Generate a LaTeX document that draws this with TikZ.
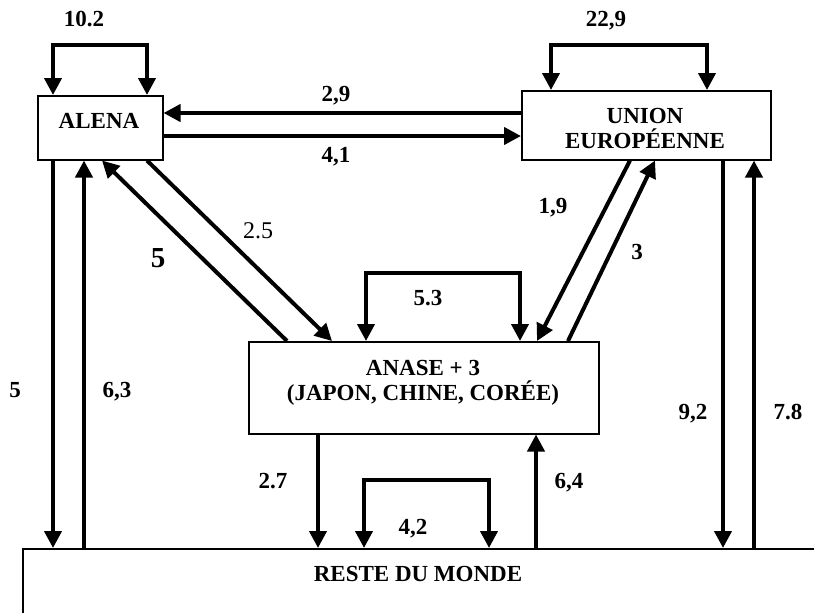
\documentclass[tikz,border=0pt]{standalone}
\usepackage{fontspec}
\setmainfont{Liberation Serif}
\usetikzlibrary{arrows.meta}
\begin{document}
\begin{tikzpicture}[x=1pt,y=-1pt,
  box/.style={draw, line width=1.5pt, inner sep=0pt, anchor=north west},
  txt/.style={font=\fontsize{23}{26}\selectfont\bfseries, inner sep=0pt, anchor=base},
  lab/.style={font=\fontsize{23}{26}\selectfont\bfseries, inner sep=0pt, anchor=base},
  arr/.style={line width=4pt, -{Triangle[width=17pt,length=17pt]}},
  selfloop/.style={line width=4pt, {Triangle[width=17pt,length=17pt]}-{Triangle[width=17pt,length=17pt]}}
]
\useasboundingbox (0,0) rectangle (814,613);
\clip (0,0) rectangle (814,613);
\fill[white] (0,0) rectangle (814,613);

% boxes
\node[box, minimum width=125pt, minimum height=64pt] (alena) at (37,95) {};
\node[box, minimum width=249pt, minimum height=69pt] (ue) at (521,90) {};
\node[box, minimum width=350pt, minimum height=92pt] (anase) at (248,341) {};
\node[box, minimum width=820pt, minimum height=100pt] (rdm) at (22,548) {};

% box texts
\node[txt] (talena) at (99,128) {ALENA};
\node[txt] (tue1) at (645,123) {UNION};
\node[txt] (tue2) at (645,148) {EUROPÉENNE};
\node[txt] (tan1) at (423,375) {ANASE + 3};
\node[txt] (tan2) at (423,400) {(JAPON, CHINE, CORÉE)};
\node[txt] (trdm) at (418,581) {RESTE DU MONDE};

% self loops
\draw[selfloop] (53,0 |- alena.north) -- (53,45) -- (147,45) -- (147,0 |- alena.north);
\draw[selfloop] (551,0 |- ue.north) -- (551,45) -- (707,45) -- (707,0 |- ue.north);
\draw[selfloop] (366,0 |- anase.north) -- (366,273) -- (520,273) -- (520,0 |- anase.north);
\draw[selfloop] (364,0 |- rdm.north) -- (364,480) -- (489,480) -- (489,0 |- rdm.north);

% horizontal
\draw[arr] (ue.west |- 0,113) -- (alena.east |- 0,113);
\draw[arr] (alena.east |- 0,136) -- (ue.west |- 0,136);

% diagonals
\draw[arr] (147,0 |- alena.south) -- (332,0 |- anase.north);
\draw[arr] (287,0 |- anase.north) -- (102,0 |- alena.south);
\draw[arr] (630,0 |- ue.south) -- (537,0 |- anase.north);
\draw[arr] (568,0 |- anase.north) -- (655,0 |- ue.south);

% verticals
\draw[arr] (53,0 |- alena.south) -- (53,0 |- rdm.north);
\draw[arr] (84,0 |- rdm.north) -- (84,0 |- alena.south);
\draw[arr] (723,0 |- ue.south) -- (723,0 |- rdm.north);
\draw[arr] (754,0 |- rdm.north) -- (754,0 |- ue.south);
\draw[arr] (318,0 |- anase.south) -- (318,0 |- rdm.north);
\draw[arr] (536,0 |- rdm.north) -- (536,0 |- anase.south);

% labels
\node[lab] (l102) at (84,26) {10.2};
\node[lab] (l229) at (606,26) {22,9};
\node[lab] (l29) at (336,101) {2,9};
\node[lab] (l41) at (336,162) {4,1};
\node[lab] (l19) at (553,213) {1,9};
\node[lab] (l3) at (637,259) {3};
\node[lab] (l53) at (428,305) {5.3};
\node[inner sep=0pt, anchor=base, font=\fontsize{24}{26}\selectfont] (l25) at (258,238) {2.5};
\node[inner sep=0pt, anchor=base, font=\fontsize{29}{32}\selectfont\bfseries] (l5b) at (158,267) {5};
\node[lab] (l5) at (15,397) {5};
\node[lab] (l63) at (117,397) {6,3};
\node[lab] (l27) at (273,488) {2.7};
\node[lab] (l64) at (569,488) {6,4};
\node[lab] (l42) at (413,534) {4,2};
\node[lab] (l92) at (693,419) {9,2};
\node[lab] (l78) at (788,419) {7.8};
\end{tikzpicture}
\end{document}
